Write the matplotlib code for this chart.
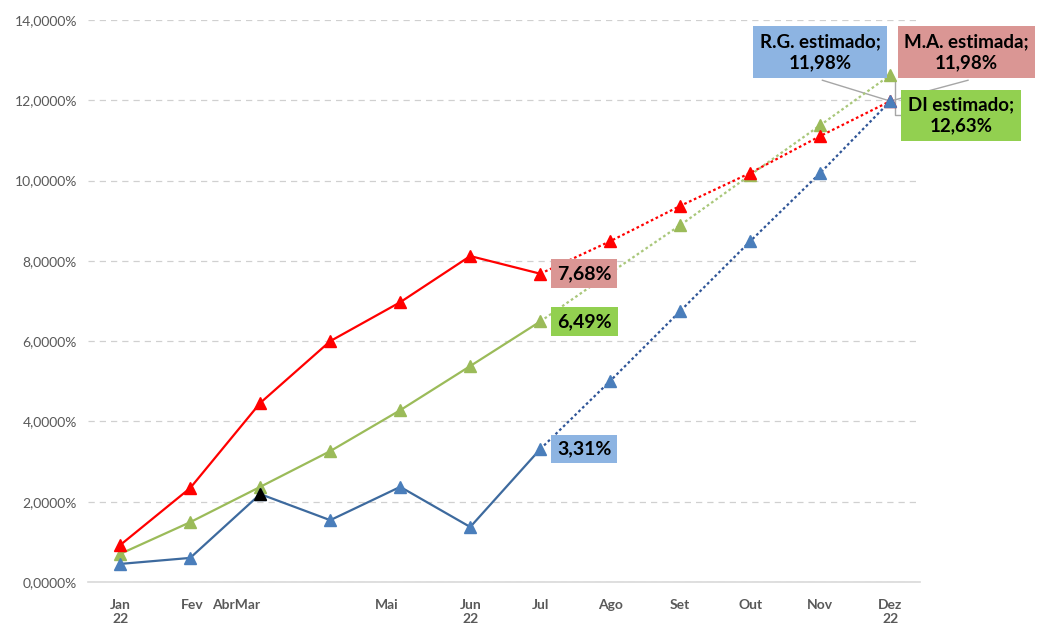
import numpy as np
import matplotlib
matplotlib.use("Agg")
from matplotlib import pyplot as plt

plt.rcParams['font.family'] = ['Lato', 'DejaVu Sans']

months = ["Jan", "Fev", "Mar", "Abr", "Mai", "Jun", "Jul", "Ago", "Set", "Out", "Nov", "Dez"]

# valores em %
ma_vals = [0.92, 2.34, 4.46, 6.00, 6.97, 8.12, 7.68, 8.49, 9.37, 10.19, 11.11, 11.98]
di_vals = [0.70, 1.49, 2.37, 3.26, 4.28, 5.38, 6.49, 7.70, 8.89, 10.14, 11.38, 12.63]
rg_vals = [0.45, 0.60, 2.19, 1.54, 2.37, 1.37, 3.31, 5.01, 6.75, 8.49, 10.19, 11.98]

# rotulos do eixo x (posicoes estranhas, como no original)
tick_pos = [0.0, 1.03, 1.65, 3.81, 5.0, 6.0, 7.0, 8.0, 9.0, 10.0, 11.0]
tick_lbl = ["Jan\n22", "Fev", "AbrMar", "Mai", "Jun\n22", "Jul", "Ago", "Set", "Out", "Nov", "Dez\n22"]

yticks = [0, 2, 4, 6, 8, 10, 12, 14]

x = np.arange(len(months))
cut = 6  # Jul: fim do realizado

red = "#FF0000"
green = "#9BBB59"
blue = "#4A7EBB"

fig = plt.figure(figsize=(10.4, 6.3), dpi=100)
ax = fig.add_axes([0.0846, 0.0762, 0.8004, 0.892])

def draw(vals, col, dotcol, mk_col):
    v = np.array(vals)
    ax.plot(x[:cut + 1], v[:cut + 1], color=col, lw=1.6, zorder=3)
    ax.plot(x[cut:], v[cut:], color=dotcol, lw=1.6, ls=(0, (1.2, 1.2)), zorder=3)
    ax.plot(x, v, ls="none", marker="^", ms=8, color=mk_col, zorder=4)

draw(di_vals, green, "#A9C77A", green)
draw(ma_vals, red, red, red)
draw(rg_vals, "#3D6A9E", "#2F5597", blue)
# marcador preto em Mar (R.G.)
ax.plot(x[2], rg_vals[2], ls="none", marker="^", ms=8, color="black", zorder=5)

ax.set_xlim(-0.46, 11.43)
ax.set_ylim(0, 14)
ax.set_yticks(yticks)
ax.set_yticklabels(["%d,0000%%" % v for v in yticks])
ax.set_xticks(tick_pos)
ax.set_xticklabels(tick_lbl)
ax.tick_params(axis="both", length=0, labelsize=10, colors="#595959", pad=8)
ax.tick_params(axis="x", pad=12)
for lbl in ax.get_xticklabels():
    lbl.set_fontweight("bold")

ax.grid(axis="y", color="#D0D0D0", ls=(0, (5, 4)), lw=0.9)
ax.set_axisbelow(True)
for s in ["left", "right", "top"]:
    ax.spines[s].set_visible(False)
ax.spines["bottom"].set_color("#D9D9D9")
ax.spines["bottom"].set_linewidth(1.2)

def box(xx, yy, text, fc):
    ax.text(xx, yy, text, ha="left", va="center", fontsize=14, fontweight="bold",
            color="black", zorder=6,
            bbox=dict(boxstyle="square,pad=0.3", fc=fc, ec="none"))

box(cut + 0.24, ma_vals[cut], "7,68%", "#DA9694")
box(cut + 0.24, di_vals[cut], "6,49%", "#92D050")
box(cut + 0.24, rg_vals[cut], "3,31%", "#8DB4E2")

# leader lines para os rotulos estimados
ax.plot([10.03, 11.0], [12.5, rg_vals[11]], color="#A6A6A6", lw=1, zorder=2)
ax.plot([12.11, 11.0], [12.5, rg_vals[11]], color="#A6A6A6", lw=1, zorder=2, clip_on=False)
ax.plot([11.07, 11.07, 11.4], [12.5, 11.63, 11.63], color="#A6A6A6", lw=1, zorder=2, clip_on=False)

def big_box(xx, yy, text, fc):
    ax.text(xx, yy, text, ha="center", va="center", fontsize=13.5,
            fontweight="bold", linespacing=1.3, zorder=6, clip_on=False,
            bbox=dict(boxstyle="square,pad=0.35", fc=fc, ec="none"))

big_box(10.0, 13.2, "R.G. estimado;\n11,98%", "#8DB4E2")
big_box(12.09, 13.2, "M.A. estimada;\n11,98%", "#DA9694")
big_box(12.01, 11.63, "DI estimado;\n12,63%", "#92D050")

fig.savefig("out.png", dpi=100, facecolor="white")
